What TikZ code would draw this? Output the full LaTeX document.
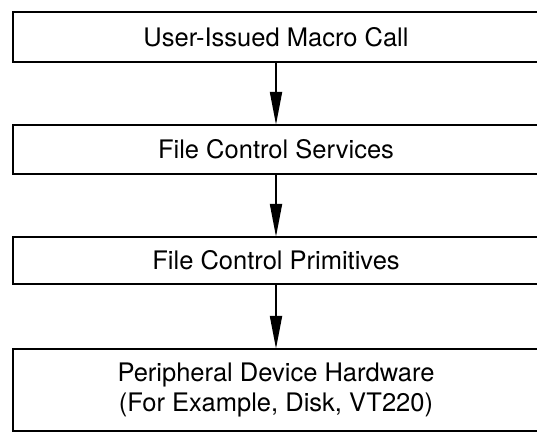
\documentclass[tikz,border=0pt]{standalone}
\usepackage{fontspec}
\setmainfont{TeX Gyre Heros}
\usepackage{tikz}
\usetikzlibrary{arrows.meta,positioning,shapes,calc}

\begin{document}
\begin{tikzpicture}[x = 1pt, y = -1pt,
  layer/.style = {rectangle, minimum width = 526pt, inner sep = 0pt, align = center, font = \fontsize{25.5}{30}\selectfont},
  frame/.style = {line width = 2.5pt},
  flow/.style = {line width = 2pt, -{Triangle[length = 33pt, width = 12pt]}}]
\useasboundingbox (0,0) rectangle (537,433);
\node[layer, minimum height = 50pt] (macro) at (276, 37) {User-Issued Macro Call};
\node[layer, minimum height = 49pt] (services) at (276, 149.5) {File Control Services};
\node[layer, minimum height = 47pt] (primitives) at (276, 260.5) {File Control Primitives};
\node[layer, minimum height = 82pt] (hardware) at (276, 390) {Peripheral Device Hardware\\(For Example, Disk, VT220)};
% boxes run off the right edge of the page
\foreach \b in {macro, services, primitives, hardware}
  \draw[frame] (\b.north east) -| (\b.south west) -- (\b.south east);
\draw[flow] (macro.south) -- (services.north);
\draw[flow] (services.south) -- (primitives.north);
\draw[flow] (primitives.south) -- (hardware.north);
\end{tikzpicture}
\end{document}
